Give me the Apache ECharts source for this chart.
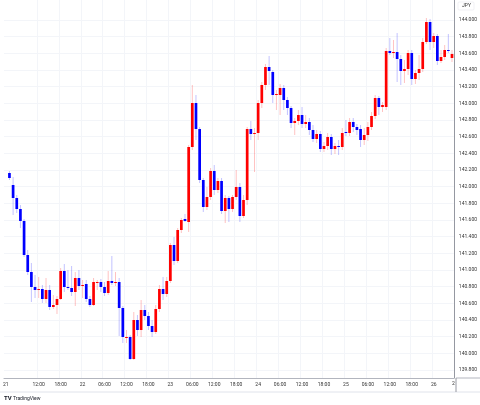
<!DOCTYPE html>
<html>
<head>
<meta charset="utf-8">
<script src="https://cdn.jsdelivr.net/npm/echarts@6/dist/echarts.min.js"></script>
<style>
  html, body { margin: 0; padding: 0; background: #fff; }
  #main { width: 480px; height: 405px; }
</style>
</head>
<body>
<div id="main"></div>
<script>
// hourly candles, first one at 04:00 on the 21st
const startDay = 21;
const startHour = 4;

const opens = [142.164,142.02,141.864,141.732,141.588,141.18,140.976,140.796,140.76,140.772,140.652,140.76,140.556,140.58,140.652,140.988,140.796,140.784,140.736,140.904,140.808,140.832,140.652,140.58,140.856,140.856,140.796,140.724,140.868,140.844,140.856,140.544,140.196,140.196,139.932,140.40,140.28,140.52,140.448,140.328,140.256,140.532,140.772,140.712,140.868,141.30,141.108,141.48,141.612,141.576,142.476,143.004,142.692,142.08,141.756,141.876,142.188,141.96,142.068,141.708,141.864,141.732,141.876,141.996,141.648,141.84,142.692,142.632,142.644,143.004,143.22,143.436,143.376,143.10,143.10,143.184,143.04,142.944,142.764,142.788,142.86,142.752,142.776,142.68,142.572,142.632,142.452,142.488,142.596,142.452,142.488,142.476,142.656,142.644,142.776,142.716,142.692,142.56,142.62,142.716,142.848,143.064,142.956,142.956,143.628,143.604,143.616,143.532,143.388,143.412,143.604,143.292,143.364,143.412,143.736,143.976,143.736,143.808,143.508,143.556,143.64,143.544];
const closes = [142.104,141.864,141.732,141.588,141.18,140.976,140.796,140.76,140.772,140.652,140.76,140.556,140.58,140.652,140.988,140.796,140.784,140.736,140.904,140.808,140.82,140.652,140.58,140.856,140.856,140.796,140.724,140.868,140.844,140.856,140.544,140.196,140.196,139.932,140.40,140.28,140.52,140.448,140.328,140.256,140.532,140.772,140.712,140.868,141.30,141.108,141.48,141.60,141.588,142.476,143.004,142.692,142.08,141.756,141.876,142.188,141.96,142.068,141.708,141.864,141.732,141.876,141.996,141.648,141.84,142.692,142.632,142.644,143.004,143.22,143.436,143.388,143.10,143.112,143.184,143.04,142.944,142.764,142.788,142.86,142.752,142.776,142.68,142.572,142.632,142.452,142.488,142.596,142.452,142.488,142.476,142.644,142.644,142.776,142.716,142.68,142.56,142.62,142.716,142.848,143.064,142.956,142.98,143.628,143.604,143.616,143.532,143.388,143.412,143.604,143.292,143.364,143.412,143.736,143.976,143.736,143.808,143.508,143.556,143.64,143.628,143.592];
const highs = [142.188,142.116,141.90,141.78,141.612,141.24,141.084,140.94,140.916,140.82,140.904,140.82,140.70,140.688,141.024,141.072,141.00,141.048,140.976,141.00,140.88,140.88,140.688,140.904,140.88,140.892,140.856,140.988,141.168,140.976,140.904,140.568,140.28,140.22,140.496,140.46,140.64,140.58,140.496,140.40,140.58,140.82,140.916,140.916,141.324,141.396,141.504,141.624,141.672,142.50,143.22,143.10,142.716,142.104,141.996,142.224,142.26,142.104,142.104,141.90,141.888,141.90,142.20,142.044,141.90,142.716,142.788,142.704,143.04,143.256,143.472,143.568,143.40,143.16,143.232,143.22,143.076,142.968,142.824,142.92,142.956,142.86,142.824,142.74,142.68,142.668,142.536,142.644,142.632,142.524,142.56,142.704,142.80,142.824,142.824,142.752,142.74,142.704,142.776,142.896,143.10,143.088,143.016,143.664,143.784,143.76,143.844,143.58,143.52,143.64,143.64,143.40,143.58,143.784,144.024,144.012,143.844,143.832,143.64,143.70,143.832,143.64];
const lows = [142.08,141.66,141.684,141.504,141.156,140.94,140.616,140.664,140.664,140.604,140.604,140.52,140.532,140.472,140.64,140.736,140.76,140.688,140.568,140.76,140.664,140.616,140.556,140.568,140.76,140.736,140.688,140.70,140.82,140.808,140.208,140.124,140.124,139.92,139.92,140.208,140.196,140.40,140.28,140.196,140.232,140.496,140.64,140.676,140.844,141.06,141.084,141.444,141.576,141.456,142.44,142.56,142.044,141.696,141.72,141.84,141.90,141.924,141.672,141.564,141.576,141.696,141.84,141.576,141.624,141.78,142.56,142.176,142.56,142.944,143.16,143.22,143.004,142.92,142.86,142.92,142.86,142.704,142.62,142.74,142.704,142.704,142.62,142.536,142.524,142.416,142.416,142.44,142.38,142.392,142.38,142.44,142.608,142.608,142.656,142.62,142.476,142.50,142.548,142.68,142.812,142.86,142.896,142.92,143.58,143.544,143.256,143.22,143.244,143.34,143.22,143.232,143.28,143.376,143.712,143.64,143.664,143.46,143.484,143.52,143.604,143.496];

const priceTicks = [139.8,140.0,140.2,140.4,140.6,140.8,141.0,141.2,141.4,141.6,141.8,142.0,142.2,142.4,142.6,142.8,143.0,143.2,143.4,143.6,143.8,144.0];

// one empty slot before the first candle, as on the original
const categories = [''].concat(opens.map((_, i) => {
  const h = startHour + i;
  const day = startDay + Math.floor(h / 24);
  const hh = h % 24;
  if (hh === 0) return String(day);
  return String(hh).padStart(2, '0') + ':00';
}));
const labelShown = (k) => {
  if (k === 0) return true;
  const i = k - 1;
  const hh = (startHour + i) % 24;
  return hh % 6 === 0 && (startHour + i) >= 12;
};
const labelText = (v, k) => (k === 0 ? String(startDay) : v);

const data = opens.map((o, i) => [i + 1, o, closes[i], lows[i], highs[i]]);

const chart = echarts.init(document.getElementById('main'));
chart.setOption({
  animation: false,
  grid: { left: 0, right: 24, top: 0, bottom: 27 },
  xAxis: {
    type: 'category',
    data: categories,
    boundaryGap: true,
    axisLine: { lineStyle: { color: '#b2b5be', width: 1 } },
    axisTick: { show: false },
    axisLabel: {
      interval: (k) => labelShown(k),
      formatter: labelText,
      hideOverlap: false,
      fontSize: 5, color: '#333', margin: 4, fontFamily: 'Roboto'
    },
    splitLine: { show: true, interval: (k) => labelShown(k) && k > 0, lineStyle: { color: '#f3f5f9' } }
  },
  yAxis: {
    type: 'value',
    position: 'right',
    min: 139.704,
    max: 144.24,
    axisLine: { show: true, lineStyle: { color: '#9598a1' } },
    axisTick: { show: false, customValues: priceTicks },
    axisLabel: {
      customValues: priceTicks,
      formatter: (v) => v.toFixed(3),
      fontSize: 5, color: '#333', margin: 5, fontFamily: 'Roboto'
    },
    splitLine: { show: true, lineStyle: { color: '#f3f5f9' } }
  },
  series: [{
    type: 'custom',
    data: data,
    encode: { x: 0, y: [1, 2, 3, 4] },
    renderItem: (params, api) => {
      const i = api.value(0);
      const o = api.coord([i, api.value(1)]);
      const c = api.coord([i, api.value(2)]);
      const l = api.coord([i, api.value(3)]);
      const h = api.coord([i, api.value(4)]);
      const up = api.value(2) >= api.value(1);
      const col = up ? '#ff0000' : '#0000ff';
      const wick = up ? 'rgba(255,0,0,0.3)' : 'rgba(0,0,255,0.3)';
      const w = 2.7;
      const top = Math.min(o[1], c[1]);
      const hgt = Math.max(Math.abs(o[1] - c[1]), 1);
      return {
        type: 'group',
        children: [
          { type: 'line', shape: { x1: o[0], y1: h[1], x2: o[0], y2: l[1] }, style: { stroke: wick, lineWidth: 0.8 } },
          { type: 'rect', shape: { x: o[0] - w / 2, y: top, width: w, height: hgt }, style: { fill: col } }
        ]
      };
    },
    clip: true
  }],
  graphic: [
    { type: 'line', shape: { x1: 456, y1: 378, x2: 480, y2: 378 }, style: { stroke: '#b2b5be', lineWidth: 1 } },
    { type: 'line', shape: { x1: 0, y1: 392, x2: 480, y2: 392 }, style: { stroke: '#e0e3eb', lineWidth: 1 } },
    { type: 'line', shape: { x1: 456, y1: 378, x2: 456, y2: 392 }, style: { stroke: '#9598a1', lineWidth: 1 } },
    { type: 'rect', shape: { x: 458, y: 2, width: 16, height: 8, r: 1 }, style: { fill: '#fff', stroke: '#e0e3eb', lineWidth: 0.5 } },
    { type: 'text', style: { x: 462, y: 3.5, text: 'JPY', fontSize: 5, fill: '#333', fontFamily: 'Roboto' } },
    { type: 'text', style: { x: 452, y: 381, text: '2', fontSize: 5, fill: '#333', fontFamily: 'Roboto' } },
    { type: 'text', style: { x: 4, y: 395, text: 'TV', fontSize: 6, fontWeight: 'bold', fill: '#131722', fontFamily: 'Roboto' } },
    { type: 'text', style: { x: 13, y: 396, text: 'TradingView', fontSize: 5, fill: '#131722', fontFamily: 'Roboto' } }
  ]
});
</script>
</body>
</html>
